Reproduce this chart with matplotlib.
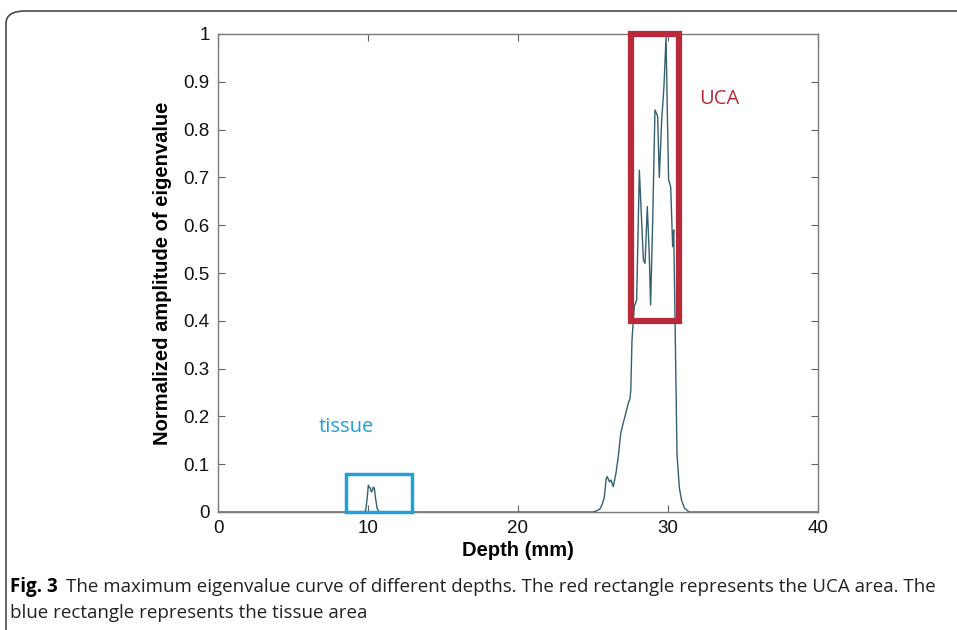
import matplotlib
matplotlib.use("Agg")
import matplotlib.pyplot as plt
from matplotlib.patches import Rectangle, FancyBboxPatch
from matplotlib import font_manager

# ---- data ----
depth = [0, 9.75, 9.85, 9.95, 10.02, 10.08, 10.15, 10.22, 10.28, 10.35, 10.42,
         10.5, 10.6, 10.72, 10.85, 25.0, 25.2, 25.45, 25.6, 25.75, 25.88, 25.95,
         26.1, 26.2, 26.35, 26.53, 26.7, 26.85, 26.95, 27.13, 27.35, 27.47,
         27.52, 27.6, 27.75, 27.91, 28.09, 28.24, 28.36, 28.47, 28.62, 28.75,
         28.84, 28.98, 29.13, 29.22, 29.31, 29.42, 29.58, 29.73, 29.87, 29.96,
         30.04, 30.18, 30.31, 30.38, 30.47, 30.6, 30.76, 30.9, 31.1, 31.4, 40]
amplitude = [0, 0, 0.004, 0.03, 0.056, 0.052, 0.05, 0.042, 0.044, 0.052, 0.05,
             0.03, 0.008, 0.001, 0, 0, 0.002, 0.006, 0.015, 0.03, 0.07, 0.074,
             0.063, 0.067, 0.053, 0.081, 0.12, 0.165, 0.178, 0.2, 0.227, 0.238,
             0.255, 0.36, 0.43, 0.443, 0.715, 0.61, 0.527, 0.52, 0.639, 0.54,
             0.433, 0.61, 0.841, 0.835, 0.827, 0.70, 0.82, 0.89, 0.994, 0.83,
             0.695, 0.68, 0.555, 0.59, 0.40, 0.12, 0.05, 0.025, 0.008, 0, 0]

x_ticks = [0, 10, 20, 30, 40]
y_ticks = [0, 0.1, 0.2, 0.3, 0.4, 0.5, 0.6, 0.7, 0.8, 0.9, 1]
y_tick_labels = ["0", "0.1", "0.2", "0.3", "0.4", "0.5", "0.6", "0.7", "0.8", "0.9", "1"]

uca_box = (27.5, 0.40, 30.7, 1.0)      # x0, y0, x1, y1
tissue_box = (8.5, 0.0, 12.95, 0.08)

caption_bold = "Fig. 3"
caption_line1 = "The maximum eigenvalue curve of different depths. The red rectangle represents the UCA area. The"
caption_line2 = "blue rectangle represents the tissue area"

# ---- fonts ----
def has_font(name):
    try:
        font_manager.findfont(font_manager.FontProperties(family=name), fallback_to_default=False)
        return True
    except Exception:
        return False

axfont = "Liberation Sans" if has_font("Liberation Sans") else "DejaVu Sans"
capfont = "Liberation Sans Narrow" if has_font("Liberation Sans Narrow") else "Open Sans"
plt.rcParams["font.family"] = [axfont, "DejaVu Sans"]

fig = plt.figure(figsize=(9.57, 6.3), dpi=100)

# frame around figure + caption (rounded corner top-left)
frame = FancyBboxPatch((6 / 957, -0.2), 1.2, (630 - 11) / 630 + 0.2,
                       boxstyle="round,pad=0,rounding_size=0.02",
                       transform=fig.transFigure, fill=False,
                       edgecolor="#4a4a4a", linewidth=1.2, clip_on=False)
fig.patches.append(frame)

ax = fig.add_axes([218 / 957, 1 - 512 / 630, 600 / 957, 478 / 630])
line_color = "#35606e"
ax.plot(depth, amplitude, color=line_color, linewidth=1.0)

ax.set_xlim(0, 40)
ax.set_ylim(0, 1)
ax.set_xticks(x_ticks)
ax.set_xticklabels([str(t) for t in x_ticks])
ax.set_yticks(y_ticks)
ax.set_yticklabels(y_tick_labels)
ax.tick_params(direction="in", length=5, width=0.8, color="#606060",
               top=True, right=True, labelsize=13.5, pad=6, labelcolor="#111111")
for s in ax.spines.values():
    s.set_color("#7a7a7a")
    s.set_linewidth(1.0)

ax.set_xlabel("Depth (mm)", fontsize=14.5, fontweight="bold", labelpad=3)
ax.set_ylabel("Normalized amplitude of eigenvalue", fontsize=14.5,
              fontweight="bold", labelpad=8)

red = "#b82a3a"
blue = "#22a0dd"
ax.add_patch(Rectangle((uca_box[0], uca_box[1]), uca_box[2] - uca_box[0],
                       uca_box[3] - uca_box[1], fill=False, edgecolor=red,
                       linewidth=4.5, clip_on=False, zorder=5))
ax.add_patch(Rectangle((tissue_box[0], tissue_box[1]), tissue_box[2] - tissue_box[0],
                       tissue_box[3] - tissue_box[1], fill=False, edgecolor=blue,
                       linewidth=2.5, clip_on=False, zorder=5))
ax.text(32.1, 0.865, "UCA", color=red, fontsize=14.5, ha="left", va="center",
        family=[capfont, "DejaVu Sans"])
ax.text(6.7, 0.178, "tissue", color=blue, fontsize=14.5, ha="left", va="center",
        family=[capfont, "DejaVu Sans"])

# caption
t = fig.text(10 / 957, 1 - 592 / 630, caption_bold, fontsize=13.5, fontweight="bold",
             family=[capfont, "DejaVu Sans"], ha="left", va="baseline")
fig.canvas.draw()
bb = t.get_window_extent()
fig.text((bb.x1 + 8) / 957, 1 - 592 / 630, caption_line1, fontsize=13.5,
         family=[capfont, "DejaVu Sans"], ha="left", va="baseline", color="#222222")
fig.text(10 / 957, 1 - 618 / 630, caption_line2, fontsize=13.5,
         family=[capfont, "DejaVu Sans"], ha="left", va="baseline", color="#222222")

fig.savefig("out.png", dpi=100)
